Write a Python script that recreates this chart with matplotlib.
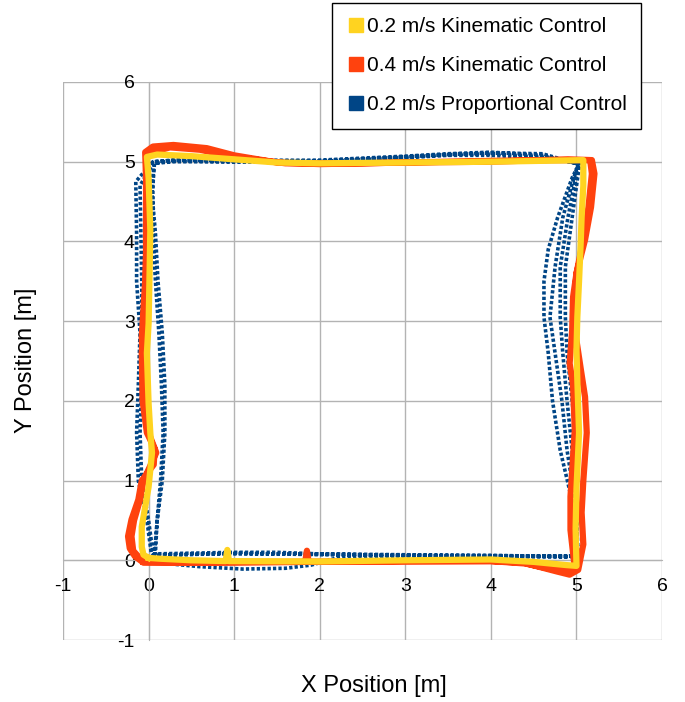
import matplotlib
matplotlib.use("Agg")
import matplotlib.pyplot as plt
from matplotlib.lines import Line2D

plt.rcParams['font.family'] = ['Liberation Sans', 'DejaVu Sans']

# series labels and colours (LibreOffice default palette)
labels = ['0.2 m/s Kinematic Control', '0.4 m/s Kinematic Control', '0.2 m/s Proportional Control']
colors = ['#ffd320', '#ff420e', '#004586']

ticks = [-1, 0, 1, 2, 3, 4, 5, 6]

# 0.2 m/s kinematic control (one lap, counter-clockwise from origin)
yellow_pts = [
    (0.0, 0.03), (0.13, 0.02), (0.5, 0.0), (0.9, -0.01), (0.92, 0.13), (0.94, -0.01),
    (2.0, -0.015), (3.0, 0.0), (4.0, 0.01), (4.5, -0.02), (4.88, -0.06), (5.0, -0.07),
    (4.99, 0.4), (5.0, 0.9), (5.03, 1.6), (5.01, 2.26), (5.0, 2.64), (5.01, 3.05),
    (5.03, 3.5), (5.05, 4.0), (5.06, 4.3), (5.08, 4.7), (5.08, 5.02),
    (4.0, 5.0), (3.0, 4.99), (2.0, 4.98), (1.5, 4.99), (1.0, 5.03), (0.5, 5.07),
    (0.1, 5.09), (-0.02, 5.06),
    (0.0, 4.8), (0.02, 4.14), (0.01, 3.52), (0.0, 2.97), (-0.02, 2.6), (0.0, 1.97),
    (0.02, 1.6), (0.04, 1.35), (0.0, 0.92), (-0.04, 0.67), (-0.08, 0.42),
    (-0.08, 0.17), (-0.06, 0.07), (0.0, 0.03),
]

# 0.4 m/s kinematic control (two laps)
orange_pts = [
    (-0.06, -0.02), (0.5, -0.03), (1.0, -0.03), (1.83, -0.02), (1.85, 0.12), (1.87, -0.02),
    (3.0, -0.015), (4.0, -0.01), (4.38, -0.03), (4.77, -0.14), (4.92, -0.18), (5.02, -0.12),
    (5.08, 0.2), (5.06, 0.6), (5.08, 1.0), (5.12, 1.6), (5.1, 2.05), (5.05, 2.4),
    (4.98, 2.9), (4.98, 3.3), (5.0, 3.6), (5.1, 4.02), (5.17, 4.43), (5.21, 4.85),
    (5.18, 5.02), (4.9, 5.03), (4.0, 5.0), (3.0, 4.99), (2.0, 4.97), (1.5, 4.99),
    (1.0, 5.08), (0.68, 5.17), (0.29, 5.21), (0.05, 5.19), (-0.04, 5.12),
    (-0.03, 4.8), (-0.03, 4.1), (-0.03, 3.5), (-0.06, 2.97), (-0.08, 2.6), (-0.07, 2.0),
    (-0.02, 1.6), (0.07, 1.4), (0.06, 1.2), (-0.08, 1.0), (-0.12, 0.76), (-0.2, 0.51),
    (-0.24, 0.3), (-0.22, 0.15), (-0.16, 0.05), (-0.06, -0.03),
    (1.0, -0.02), (2.0, -0.02), (3.0, -0.01), (4.0, -0.01), (4.4, -0.04), (4.75, -0.12),
    (4.98, -0.1), (4.93, 0.38), (4.93, 0.8), (4.96, 1.3), (4.98, 1.63), (4.96, 2.2),
    (4.92, 2.47), (4.95, 2.89), (4.96, 3.3), (5.0, 3.6), (5.08, 4.02), (5.14, 4.43),
    (5.18, 4.85), (5.16, 5.02), (4.5, 5.02), (3.5, 5.0), (2.5, 4.98), (1.6, 4.98),
    (1.0, 5.06), (0.6, 5.15), (0.25, 5.18), (-0.02, 5.1),
    (-0.01, 4.5), (-0.04, 3.5), (-0.08, 2.8), (-0.06, 2.2), (0.0, 1.6), (0.09, 1.35),
    (-0.06, 1.0), (-0.1, 0.76), (-0.17, 0.5), (-0.2, 0.3), (-0.18, 0.12), (-0.08, 0.0),
]

# 0.2 m/s proportional control (four laps)
blue_pts = [
    # lap 1
    (0.05, 0.08), (0.5, 0.09), (1.0, 0.1), (1.5, 0.1), (2.0, 0.08), (3.0, 0.07),
    (4.0, 0.06), (4.9, 0.05), (5.02, 0.08),
    (5.0, 0.5), (4.9, 0.97), (4.81, 1.38), (4.72, 2.0), (4.67, 2.6), (4.62, 3.05),
    (4.62, 3.5), (4.67, 3.9), (4.78, 4.3), (4.95, 4.8), (5.03, 4.97),
    (4.6, 5.08), (4.0, 5.12), (3.5, 5.1), (3.0, 5.07), (2.0, 5.02), (1.0, 5.01),
    (0.3, 5.02), (0.05, 5.0),
    (-0.15, 4.75), (-0.14, 4.1), (-0.14, 3.5), (-0.1, 2.85), (-0.12, 2.2),
    (-0.14, 1.6), (-0.12, 1.0), (-0.02, 0.5), (0.03, 0.1),
    # lap 2
    (0.08, 0.02), (0.2, -0.04), (0.6, -0.08), (1.1, -0.11), (1.6, -0.1), (1.9, -0.06),
    (2.2, 0.03), (3.0, 0.06), (4.0, 0.05), (4.9, 0.04), (5.0, 0.06),
    (4.99, 0.5), (4.95, 0.97), (4.89, 1.38), (4.83, 2.0), (4.75, 2.6), (4.69, 3.05),
    (4.75, 3.68), (4.84, 4.3), (4.97, 4.8), (5.02, 4.98),
    (4.6, 5.05), (4.0, 5.08), (3.5, 5.08), (3.0, 5.05), (2.0, 5.0), (1.0, 5.0),
    (0.3, 5.01), (0.05, 4.98),
    (-0.1, 4.7), (-0.09, 4.1), (-0.08, 3.5), (-0.08, 2.85), (-0.08, 2.2),
    (-0.1, 1.6), (-0.08, 1.0), (0.0, 0.5), (0.05, 0.1),
    # lap 3
    (0.06, 0.07), (1.0, 0.08), (2.0, 0.08), (3.0, 0.06), (4.0, 0.05), (4.9, 0.05),
    (5.0, 0.07),
    (4.98, 0.97), (4.95, 1.38), (4.89, 2.0), (4.84, 2.6), (4.81, 3.05), (4.81, 3.68),
    (4.9, 4.3), (5.0, 4.85), (5.03, 4.97),
    (4.6, 5.1), (4.0, 5.11), (3.5, 5.09), (3.0, 5.06), (2.0, 5.01), (1.0, 5.02),
    (0.3, 5.02), (0.07, 5.0),
    (0.05, 4.7), (0.05, 4.1), (0.08, 3.5), (0.12, 2.85), (0.15, 2.2), (0.17, 1.6),
    (0.14, 1.0), (0.1, 0.5), (0.07, 0.1),
    # lap 4
    (0.07, 0.06), (1.0, 0.09), (2.0, 0.07), (3.0, 0.06), (4.0, 0.06), (4.9, 0.05),
    (5.01, 0.06),
    (5.0, 0.9), (5.0, 1.4), (4.95, 2.0), (4.89, 2.6), (4.87, 3.05), (4.87, 3.68),
    (4.95, 4.3), (5.02, 4.85), (5.04, 4.98),
    (4.6, 5.06), (4.0, 5.1), (3.5, 5.09), (3.0, 5.06), (2.0, 5.0), (1.0, 5.0),
    (0.3, 5.0), (0.06, 4.98),
    (0.04, 4.6), (0.08, 4.1), (0.11, 3.5), (0.16, 2.85), (0.19, 2.2), (0.19, 1.6),
    (0.16, 1.0), (0.1, 0.5), (0.08, 0.1), (0.06, 0.06),
]

fig = plt.figure(figsize=(6.85, 7.02), dpi=100)
ax = fig.add_axes([0.092, 0.0883, 0.8745, 0.7949])

bx, by = zip(*blue_pts)
ax.plot(bx, by, color=colors[2], lw=2.6, linestyle=(0, (0.9, 0.6)), zorder=3)
ox, oy = zip(*orange_pts)
ax.plot(ox, oy, color=colors[1], lw=4.5, solid_joinstyle='round', zorder=4)
yx, yy = zip(*yellow_pts)
ax.plot(yx, yy, color=colors[0], lw=4.5, solid_joinstyle='round', zorder=5)

ax.set_xlim(-1, 6)
ax.set_ylim(-1, 6)
ax.set_xticks(ticks)
ax.set_yticks(ticks)
ax.set_xticklabels([str(t) for t in ticks])
ax.set_yticklabels([str(t) for t in ticks])
ax.grid(True, color='#b3b3b3', lw=1)
ax.set_axisbelow(True)

for side in ['top', 'right']:
    ax.spines[side].set_visible(False)
ax.spines['left'].set_position(('data', 0))
ax.spines['bottom'].set_position(('data', 0))
ax.spines['left'].set_color('#b3b3b3')
ax.spines['bottom'].set_color('#b3b3b3')
ax.tick_params(axis='both', length=0, labelsize=14)
ax.tick_params(axis='x', pad=12.5)
ax.tick_params(axis='y', pad=10)

fig.text(0.546, 0.0228, 'X Position [m]', fontsize=17, ha='center', va='center')
fig.text(0.038, 0.487, 'Y Position [m]', fontsize=17, ha='center', va='center', rotation=90)

handles = [Line2D([], [], color=c, marker='s', markersize=10, linestyle='none') for c in colors]
leg = fig.legend(handles, labels, loc='upper right', bbox_to_anchor=(0.936, 0.996),
                 fontsize=15, frameon=True, fancybox=False, edgecolor='black',
                 framealpha=1, handlelength=0.9, handletextpad=0.05,
                 labelspacing=0.95, borderpad=0.7, borderaxespad=0)
leg.get_frame().set_linewidth(1.0)

fig.savefig('out.png', dpi=100)
